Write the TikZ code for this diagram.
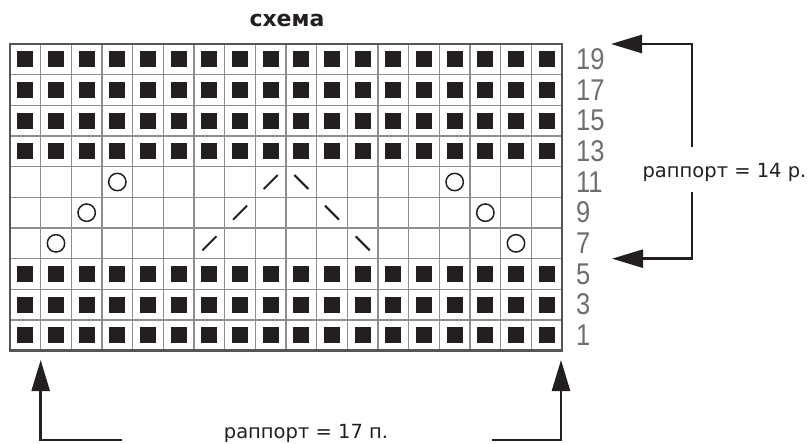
\documentclass[tikz,border=0pt]{standalone}
\usepackage{fontspec}
\setmainfont{DejaVu Sans}
\newfontfamily\numfont[FakeStretch=0.85]{Liberation Sans}
\usetikzlibrary{arrows.meta}
\definecolor{ink}{HTML}{231F20}
\definecolor{gridc}{HTML}{8E8E8E}
\definecolor{framec}{HTML}{555555}
\definecolor{numc}{HTML}{6D6E71}
\begin{document}
\begin{tikzpicture}[x=1pt,y=-1pt,
  gridline/.style={draw=gridc, line width=1.2pt},
  frame/.style={draw=framec, line width=2.6pt},
  purl/.style={fill=ink},
  yo/.style={draw=ink, line width=1.5pt},
  dec/.style={draw=ink, line width=2pt},
  numlabel/.style={font=\numfont\fontsize{30}{30}\selectfont, text=numc, inner sep=0pt, anchor=west},
  lbl/.style={font=\fontsize{19.5}{20}\selectfont, text=ink, inner sep=0pt},
  titlelbl/.style={font=\bfseries\fontsize{22}{24}\selectfont, text=ink, inner sep=0pt},
  arr/.style={draw=ink, line width=2.6pt, -{Triangle[length=31pt,width=18pt]}},
]
\fill[white] (0,0) rectangle (809,444);
\useasboundingbox (0,0) rectangle (809,444);
% grid lines
\foreach \i in {1,...,17} \draw[gridline] ({10+\i*30.667},44) -- ({10+\i*30.667},350.67);
\foreach \j in {1,...,9} \draw[gridline] (10,{44+\j*30.667}) -- (562,{44+\j*30.667});
% purl squares
\foreach \r in {0,1,2,3,7,8,9} {
  \foreach \c in {0,...,17} {
    \pgfmathsetmacro\cx{10+(\c+0.5)*30.667}
    \pgfmathsetmacro\cy{44+(\r+0.5)*30.667}
    \fill[purl] ({\cx-8},{\cy-8}) rectangle ({\cx+8},{\cy+8});
  }
}
% yarn overs
\foreach \r/\c in {4/3,4/14,5/2,5/15,6/1,6/16} {
  \pgfmathsetmacro\cx{10+(\c+0.5)*30.667}
  \pgfmathsetmacro\cy{44+(\r+0.5)*30.667}
  \draw[yo] (\cx,\cy) circle[radius=8.7pt];
}
% right-leaning decreases
\foreach \r/\c in {4/8,5/7,6/6} {
  \pgfmathsetmacro\cx{10+(\c+0.5)*30.667}
  \pgfmathsetmacro\cy{44+(\r+0.5)*30.667}
  \draw[dec] ({\cx-7},{\cy+7}) -- ({\cx+7},{\cy-7});
}
% left-leaning decreases
\foreach \r/\c in {4/9,5/10,6/11} {
  \pgfmathsetmacro\cx{10+(\c+0.5)*30.667}
  \pgfmathsetmacro\cy{44+(\r+0.5)*30.667}
  \draw[dec] ({\cx-7},{\cy-7}) -- ({\cx+7},{\cy+7});
}
% frame
\draw[frame] (10,44) rectangle (562,350.67);
% row numbers
\foreach \r/\t in {0/19,1/17,2/15,3/13,4/11,5/9,6/7,7/5,8/3,9/1}
  \node[numlabel] (n\t) at (576,{44+(\r+0.5)*30.667}) {\t};
% title
\node[titlelbl, anchor=base] (title) at (287,27) {схема};
% repeat labels
\node[lbl, anchor=base] (rep14) at (724.5,177) {раппорт = 14 р.};
\node[lbl, anchor=base] (rep17) at (306,438.5) {раппорт = 17 п.};
% right arrows
\coordinate (ra1) at (692,147);
\coordinate (ra2) at (692,44);
\coordinate (ra3) at (611,44);
\coordinate (rb1) at (692,192);
\coordinate (rb2) at (692,258.67);
\coordinate (rb3) at (612,258.67);
\draw[arr] (ra1) -- (ra2) -- (ra3);
\draw[arr] (rb1) -- (rb2) -- (rb3);
% bottom arrows
\coordinate (la1) at (122,440);
\coordinate (la2) at (40.67,440);
\coordinate (la3) at (40.67,360);
\coordinate (lb1) at (492,440);
\coordinate (lb2) at (561,440);
\coordinate (lb3) at (561,360);
\draw[arr] (la1) -- (la2) -- (la3);
\draw[arr] (lb1) -- (lb2) -- (lb3);
\end{tikzpicture}
\end{document}
